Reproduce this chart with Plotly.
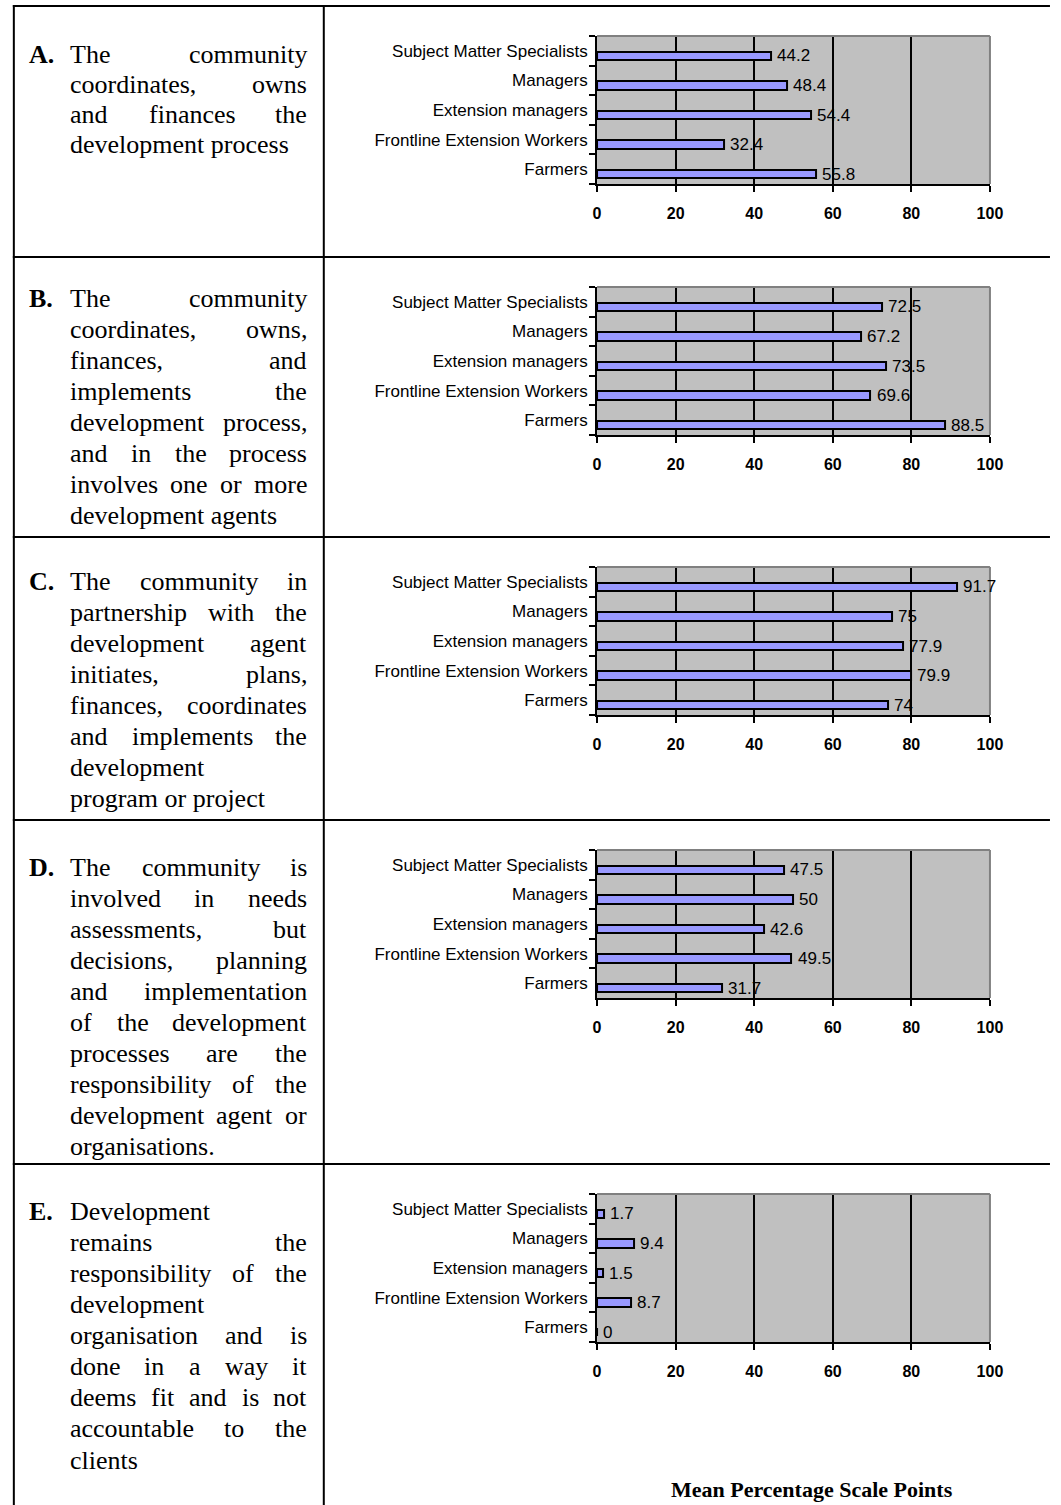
import plotly.graph_objects as go

PAGE_W, PAGE_H = 1061, 1505

# ---------------- data ----------------
categories = ["Farmers", "Frontline Extension Workers", "Extension managers",
              "Managers", "Subject Matter Specialists"]          # bottom -> top
tick_values = [0, 20, 40, 60, 80, 100]
tick_labels = ["0", "20", "40", "60", "80", "100"]

scores_a = [55.8, 32.4, 54.4, 48.4, 44.2]
scores_b = [88.5, 69.6, 73.5, 67.2, 72.5]
scores_c = [74, 79.9, 77.9, 75, 91.7]
scores_d = [31.7, 49.5, 42.6, 50, 47.5]
scores_e = [0, 8.7, 1.5, 9.4, 1.7]

row_letters = ["A.", "B.", "C.", "D.", "E."]
lines_a = ["The community", "coordinates, owns", "and finances the",
           "development process"]
lines_b = ["The community", "coordinates, owns,", "finances, and",
           "implements the", "development process,", "and in the process",
           "involves one or more", "development agents"]
lines_c = ["The community in", "partnership with the", "development agent",
           "initiates, plans,", "finances, coordinates", "and implements the",
           "development", "program or project"]
lines_d = ["The community is", "involved in needs", "assessments, but",
           "decisions, planning", "and implementation", "of the development",
           "processes are the", "responsibility of the", "development agent or",
           "organisations."]
lines_e = ["Development", "remains the", "responsibility of the", "development",
           "organisation and is", "done in a way it", "deems fit and is not",
           "accountable to the", "clients"]
x_title = "Mean Percentage Scale Points"

series = [scores_a, scores_b, scores_c, scores_d, scores_e]
row_texts = [lines_a, lines_b, lines_c, lines_d, lines_e]

# ---------------- layout geometry (pixels) ----------------
TABLE_LEFT, TABLE_TOP, COL_SPLIT = 10, 6, 325
row_tops = [6, 257, 537, 820, 1164]
first_baselines = [63, 307, 590, 876, 1220]
line_pitch = [30, 31, 31, 31, 31.1]
TEXT_L, TEXT_R, LETTER_X = 67, 308, 25
PLOT_X0, PLOT_X1 = 602.7, 1002.0
PLOT_H = 148

SERIF = "Liberation Serif"
SANS = "Liberation Sans"
BODY_SIZE = 26

# Times / Liberation Serif advance widths (1/1000 em)
TIMES_W = {
    'a': 444, 'b': 500, 'c': 444, 'd': 500, 'e': 444, 'f': 333, 'g': 500,
    'h': 500, 'i': 278, 'j': 278, 'k': 500, 'l': 278, 'm': 778, 'n': 500,
    'o': 500, 'p': 500, 'q': 500, 'r': 333, 's': 389, 't': 278, 'u': 500,
    'v': 500, 'w': 722, 'x': 500, 'y': 500, 'z': 444, ' ': 250, ',': 250,
    '.': 250, 'T': 611, 'D': 722,
}


def text_width(s, size):
    return sum(TIMES_W.get(ch, 500) for ch in s) / 1000.0 * size


def px_x(x):
    return x / PAGE_W


def px_y(y):
    return 1 - y / PAGE_H


fig = go.Figure()
layout_axes = {}
annotations = []
shapes = []

for i, vals in enumerate(series):
    n = "" if i == 0 else str(i + 1)
    top = row_tops[i] + 30
    bottom = top + PLOT_H
    fig.add_trace(go.Bar(
        x=vals, y=categories, orientation="h",
        xaxis="x" + n, yaxis="y" + n,
        width=0.28, offset=-0.31,
        marker=dict(color="#9999FF", line=dict(color="black", width=2)),
        hoverinfo="skip", showlegend=False,
    ))
    layout_axes["xaxis" + n] = dict(
        domain=[px_x(PLOT_X0), px_x(PLOT_X1)], anchor="y" + n,
        range=[0, 100], tickvals=tick_values, ticktext=tick_labels,
        showgrid=True, gridcolor="black", gridwidth=2,
        showline=True, linecolor="black", linewidth=2,
        ticks="outside", ticklen=6, tickwidth=2, tickcolor="black",
        tickfont=dict(family=SANS, size=16, color="black", weight="bold"),
        ticklabelstandoff=8, zeroline=False, fixedrange=True,
    )
    layout_axes["yaxis" + n] = dict(
        domain=[px_y(bottom), px_y(top)], anchor="x" + n,
        type="category", categoryorder="array", categoryarray=categories,
        range=[-0.5, 4.5], showgrid=False, zeroline=False,
        showline=True, linecolor="black", linewidth=2,
        ticks="outside", tickson="boundaries", ticklen=6, tickwidth=2,
        tickcolor="black",
        tickfont=dict(family=SANS, size=17, color="black"),
        ticklabelstandoff=4, fixedrange=True,
    )
    # value labels at the end of each bar
    for j, v in enumerate(vals):
        annotations.append(dict(
            x=v, y=j - 0.17, xref="x" + n, yref="y" + n,
            text=f"{v:g}", showarrow=False, xanchor="left", yanchor="middle",
            xshift=6, borderpad=0, borderwidth=0,
            font=dict(family=SANS, size=17, color="black"),
        ))
    # grey frame on the top and right sides of the plot area
    for (x0, y0, x1, y1) in [(0, 1, 1, 1), (1, 0, 1, 1)]:
        shapes.append(dict(
            type="line", xref="x" + n + " domain", yref="y" + n + " domain",
            x0=x0, y0=y0, x1=x1, y1=y1,
            line=dict(color="#808080", width=2), layer="above",
        ))

# ---------------- table frame ----------------
def hline(y, x0, x1):
    shapes.append(dict(type="line", xref="paper", yref="paper",
                       x0=px_x(x0), x1=px_x(x1), y0=px_y(y), y1=px_y(y),
                       line=dict(color="black", width=2)))


def vline(x, y0, y1):
    shapes.append(dict(type="line", xref="paper", yref="paper",
                       x0=px_x(x), x1=px_x(x), y0=px_y(y0), y1=px_y(y1),
                       line=dict(color="black", width=2)))


for y in row_tops:
    hline(y, TABLE_LEFT - 1, PAGE_W + 2)
vline(TABLE_LEFT, TABLE_TOP - 1, PAGE_H + 2)
vline(COL_SPLIT, TABLE_TOP - 1, PAGE_H + 2)

# ---------------- justified row descriptions ----------------
def add_word(word, x, baseline, anchor="left", bold=False):
    annotations.append(dict(
        x=px_x(x), y=px_y(baseline - 0.338 * BODY_SIZE),
        xref="paper", yref="paper", text=f"<b>{word}</b>" if bold else word,
        showarrow=False, xanchor=anchor, yanchor="middle",
        borderpad=0, borderwidth=0,
        font=dict(family=SERIF, size=BODY_SIZE, color="black"),
    ))


for i, lines in enumerate(row_texts):
    base0, pitch = first_baselines[i], line_pitch[i]
    add_word(row_letters[i], LETTER_X, base0, bold=True)
    for k, line in enumerate(lines):
        baseline = base0 + k * pitch
        words = line.split(" ")
        last_line = (k == len(lines) - 1)
        if last_line or len(words) == 1:
            add_word(line, TEXT_L, baseline)
            continue
        widths = [text_width(w, BODY_SIZE) for w in words]
        gap = (TEXT_R - TEXT_L - sum(widths)) / (len(words) - 1)
        x = TEXT_L
        for m, w in enumerate(words):
            if m == len(words) - 1:
                add_word(w, TEXT_R, baseline, anchor="right")
            else:
                add_word(w, x, baseline)
            x += widths[m] + gap

# axis caption under the last chart
annotations.append(dict(
    x=px_x(821), y=px_y(1489), xref="paper", yref="paper",
    text=f"<b>{x_title}</b>", showarrow=False, xanchor="center",
    yanchor="middle",
    font=dict(family=SERIF, size=22, color="black"),
))

fig.update_layout(
    width=PAGE_W, height=PAGE_H,
    margin=dict(l=0, r=0, t=0, b=0),
    paper_bgcolor="white", plot_bgcolor="#C0C0C0",
    showlegend=False, bargap=0,
    annotations=annotations, shapes=shapes,
    **layout_axes,
)

fig.write_html("out.html", config={"displayModeBar": False})
